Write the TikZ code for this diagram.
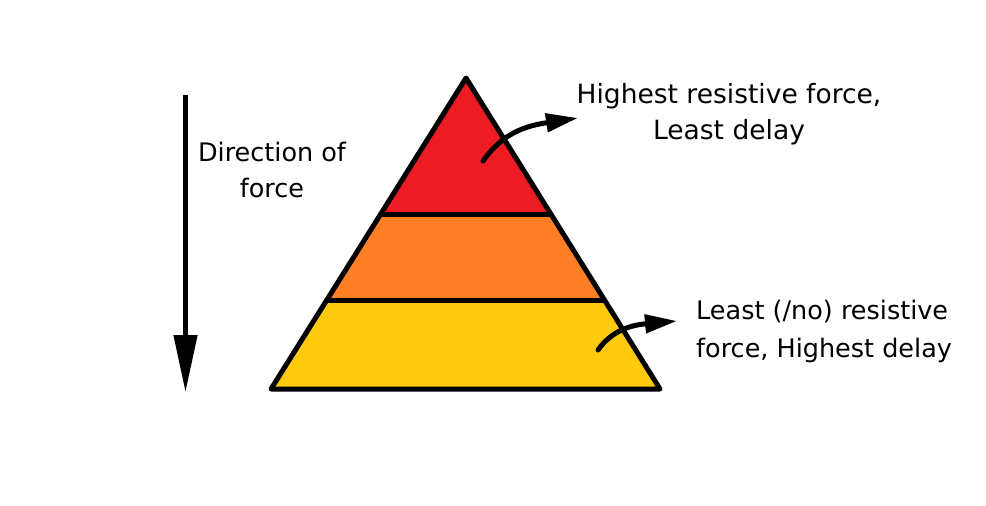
\documentclass[tikz,border=0pt]{standalone}
\usepackage{fontspec}
\setmainfont{DejaVu Sans}
\usetikzlibrary{arrows.meta}
\definecolor{tred}{HTML}{ED1C24}
\definecolor{torange}{HTML}{FF7F27}
\definecolor{tyellow}{HTML}{FFC90E}
\tikzset{
  lbl/.style={font=\fontsize{25.5}{36}\selectfont, inner sep=0pt, text=black},
  edge/.style={line width=5pt, line join=round, line cap=round},
  curvarrow/.style={line width=5pt, line cap=round, -{Triangle[length=32pt,width=18pt]}},
}
\begin{document}
\begin{tikzpicture}[x=1pt,y=-1pt]
\useasboundingbox[fill=white] (0,0) rectangle (986,506);
% layers
\fill[tyellow] (271,389) -- (326.8,300) -- (604.5,300) -- (660,389) -- cycle;
\fill[torange] (326.8,300) -- (380.7,214) -- (550.8,214) -- (604.5,300) -- cycle;
\fill[tred] (380.7,214) -- (466,78) -- (550.8,214) -- cycle;
\draw[edge] (466,78) -- (660,389) -- (271,389) -- cycle;
\draw[edge] (380.7,214) -- (550.8,214);
\draw[edge] (326.8,300) -- (604.5,300);
% left arrow
\coordinate (dtop) at (185.5,95);
\coordinate (dbot) at (185.5,392);
\draw[line width=4.5pt, -{Triangle[length=57pt,width=23pt]}] (dtop) -- (dbot);
\node[lbl, align=center] (dir) at (272,170) {Direction of\\force};
% top label
\node[lbl, align=center, font=\fontsize{26.5}{36}\selectfont] (top) at (729,114) {Highest resistive force,\\Least delay};
\coordinate (ts) at (483,161);
\draw[curvarrow] (ts) .. controls (503,133) and (525,126) .. (578,118);
% bottom label
\node[lbl, align=left, anchor=west, font=\fontsize{25.5}{38}\selectfont] (bot) at (696,331) {Least (/no) resistive\\force, Highest delay};
\coordinate (bs) at (598,350);
\draw[curvarrow] (bs) .. controls (612,330) and (632,325) .. (677,321);
\end{tikzpicture}
\end{document}
